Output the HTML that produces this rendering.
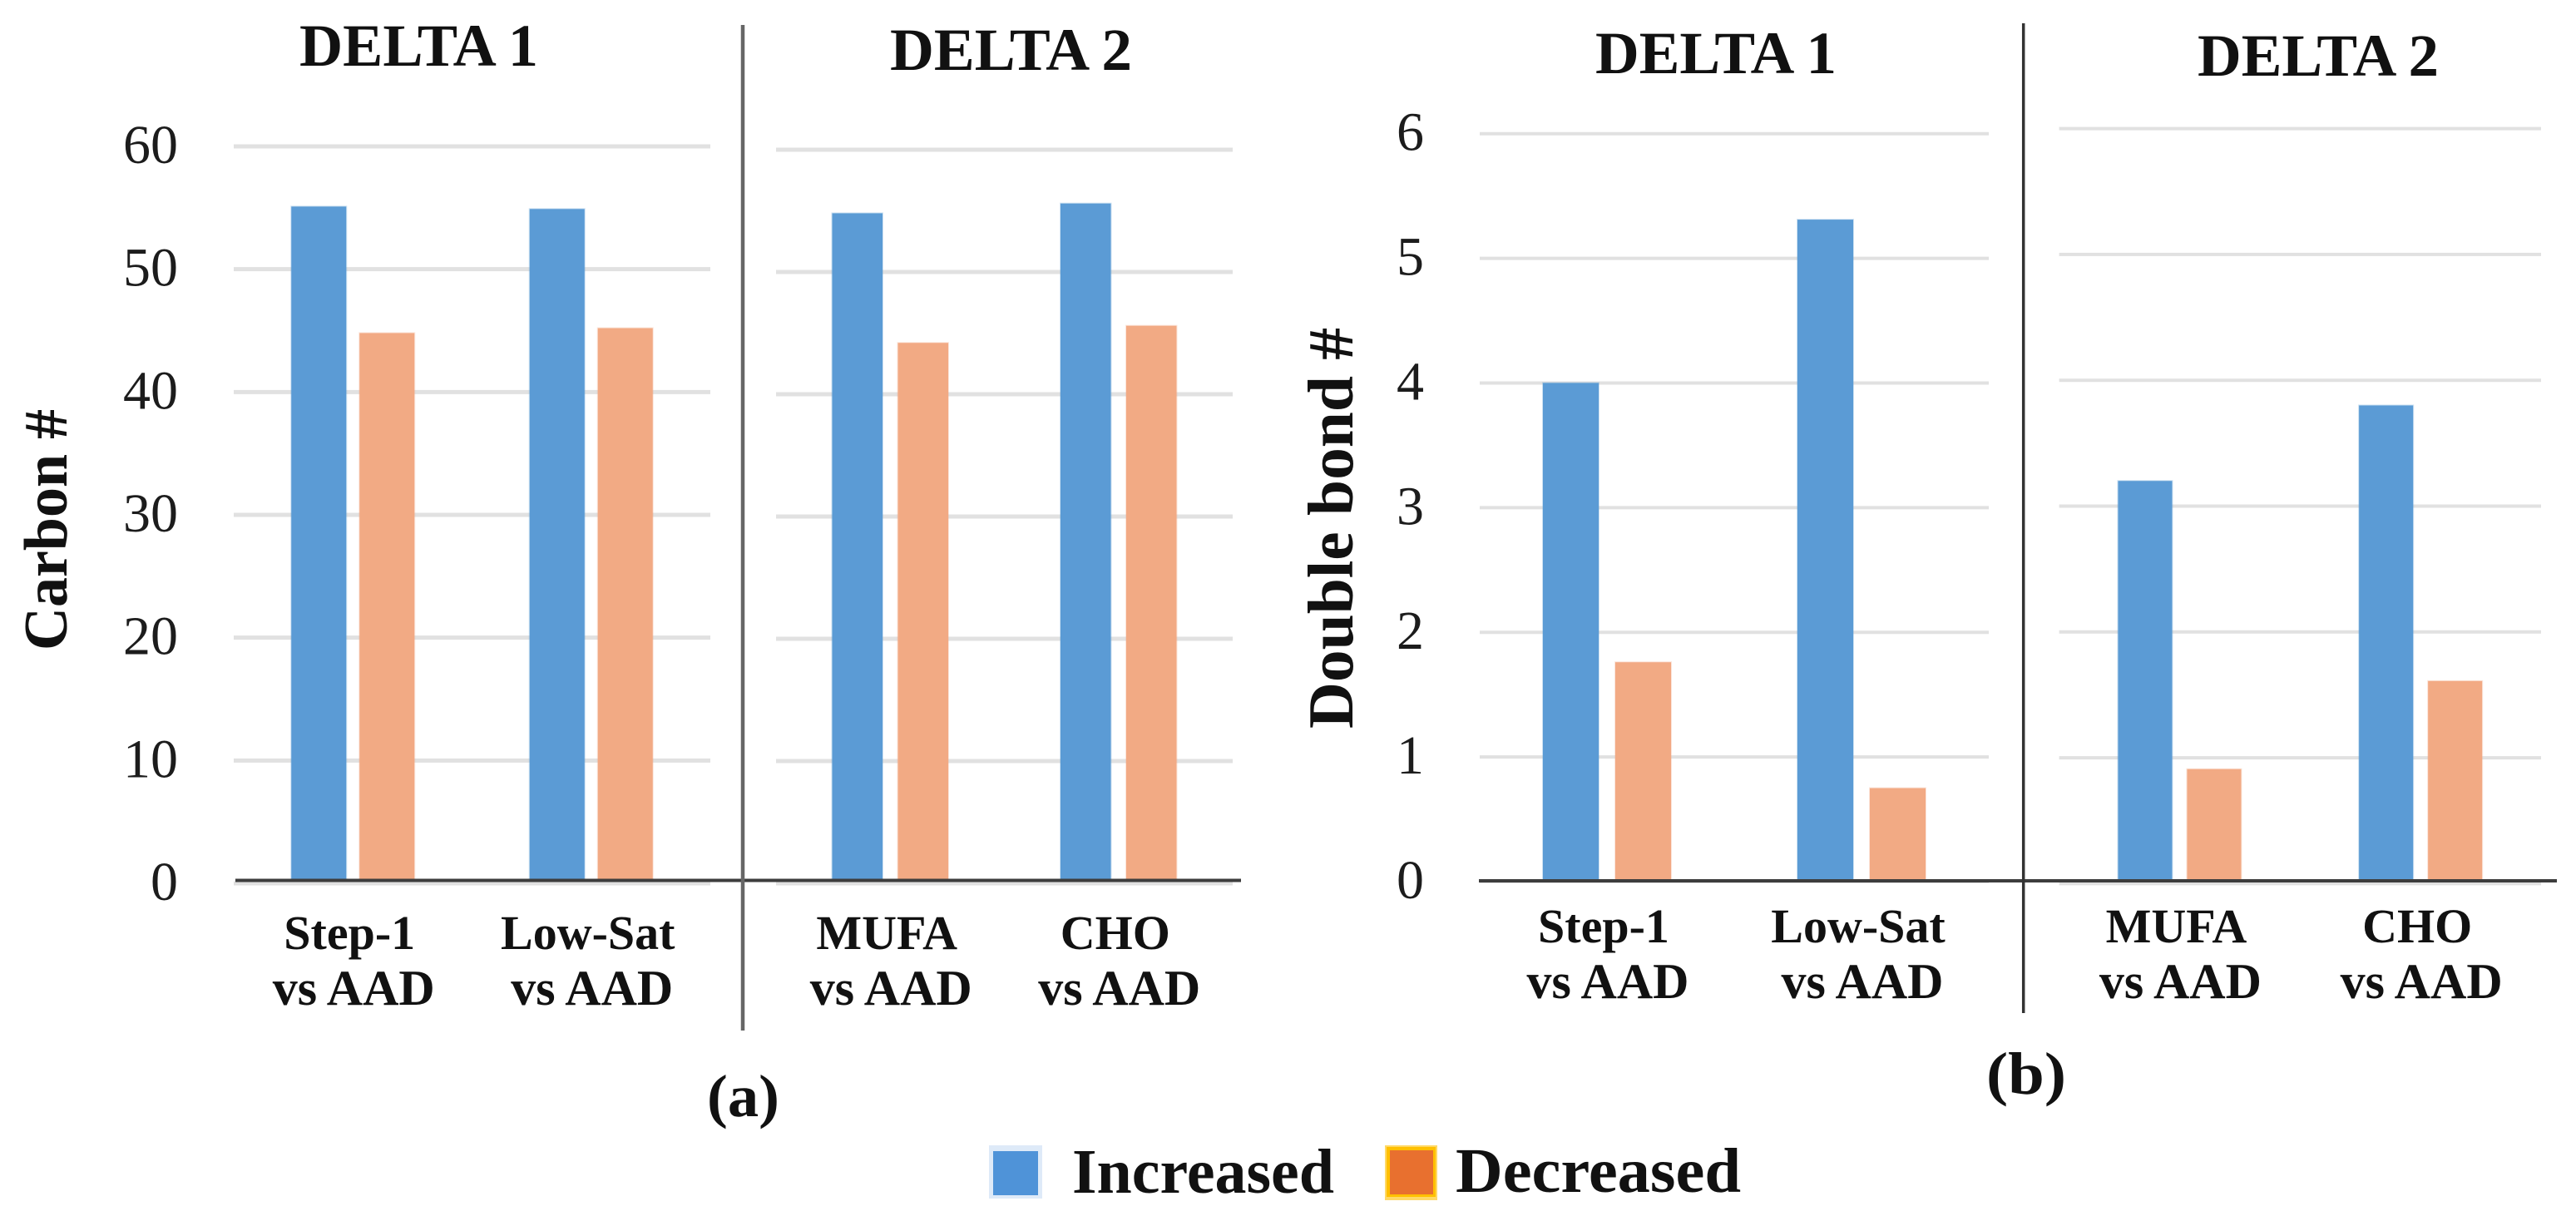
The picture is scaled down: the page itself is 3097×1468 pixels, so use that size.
<!DOCTYPE html>
<html lang="en">
<head>
<meta charset="utf-8">
<title>Carbon and double bond number charts</title>
<style>
html,body{margin:0;padding:0;background:#fff;width:3097px;height:1468px;overflow:hidden}
svg{display:block}
text{font-family:"Liberation Serif",serif;fill:#111}
.head{font-weight:700;font-size:72px}
.ytitle{font-weight:700}
.legend{font-weight:700;font-size:76px}
.sub{font-weight:700;font-size:72px}
</style>
</head>
<body>
<svg id="chart" xmlns="http://www.w3.org/2000/svg" width="3097" height="1468" viewBox="0 0 3097 1468">
  <rect x="0" y="0" width="3097" height="1468" fill="#fff"/>
  <g id="marks"></g>

  <text class="head" x="360" y="79" textLength="287" lengthAdjust="spacingAndGlyphs">DELTA 1</text>
  <text class="head" x="1070" y="84" textLength="291" lengthAdjust="spacingAndGlyphs">DELTA 2</text>
  <text class="head" x="1918" y="88" textLength="290" lengthAdjust="spacingAndGlyphs">DELTA 1</text>
  <text class="head" x="2642" y="91" textLength="290" lengthAdjust="spacingAndGlyphs">DELTA 2</text>

  <text class="ytitle" font-size="74" transform="translate(80,782) rotate(-90)" textLength="290" lengthAdjust="spacingAndGlyphs">Carbon #</text>
  <text class="ytitle" font-size="77" transform="translate(1626,876) rotate(-90)" textLength="482" lengthAdjust="spacingAndGlyphs">Double bond #</text>

  <text class="sub" x="850" y="1342" textLength="87" lengthAdjust="spacingAndGlyphs">(a)</text>
  <text class="sub" x="2388" y="1315" textLength="96" lengthAdjust="spacingAndGlyphs">(b)</text>

  <g>
    <rect x="1189" y="1377" width="64" height="64" fill="#deeaf8"/>
    <rect x="1194" y="1384" width="54" height="53" fill="#4f93d8"/>
    <text class="legend" x="1289" y="1434" textLength="315" lengthAdjust="spacingAndGlyphs">Increased</text>
    <rect x="1665" y="1377" width="63" height="66" fill="#ffd966"/>
    <rect x="1667" y="1379" width="59" height="60" fill="#ffc000"/>
    <rect x="1671" y="1383" width="52" height="53" fill="#e8702f"/>
    <text class="legend" x="1750" y="1433" textLength="343" lengthAdjust="spacingAndGlyphs">Decreased</text>
  </g>
</svg>
<script>
// ---- data ----
const delta1Categories = ["Step-1", "Low-Sat"];
const delta2Categories = ["MUFA", "CHO"];
const categorySuffix = "vs AAD";

const carbonTicks = [0, 10, 20, 30, 40, 50, 60];
const carbonDelta1Increased = [55.1, 54.9];
const carbonDelta1Decreased = [44.8, 45.2];
const carbonDelta2Increased = [54.8, 55.6];
const carbonDelta2Decreased = [44.2, 45.6];

const doubleBondTicks = [0, 1, 2, 3, 4, 5, 6];
const doubleBondDelta1Increased = [4.0, 5.31];
const doubleBondDelta1Decreased = [1.76, 0.75];
const doubleBondDelta2Increased = [3.2, 3.8];
const doubleBondDelta2Decreased = [0.91, 1.61];

// ---- drawing ----
const SVG_NS = "http://www.w3.org/2000/svg";
const root = document.getElementById("marks");

function node(tag, attrs) {
  const el = document.createElementNS(SVG_NS, tag);
  for (const k in attrs) el.setAttribute(k, attrs[k]);
  root.appendChild(el);
  return el;
}

function linear(d0, d1, r0, r1) {
  return function (v) { return r0 + (v - d0) / (d1 - d0) * (r1 - r0); };
}

function band(count, r0, r1) {
  return function (i) { return r0 + (r1 - r0) * (i + 0.5) / count; };
}

function drawSubpanel(p) {
  const top = p.ticks[p.ticks.length - 1];
  const y = linear(0, top, p.y0, p.yTop);
  const x = band(p.categories.length, p.x0, p.x1);

  p.ticks.forEach(function (t) {
    const line = node("line", {x1: p.x0, x2: p.x1, y1: y(t), y2: y(t), stroke: "#e1e1e1", "stroke-width": p.gridW});
    
    
    if (p.showTicks) {
      const lab = node("text", {x: p.tickX, y: y(t) + 20, "text-anchor": "end", "font-size": 66, fill: "#1c1c1c"});
      lab.textContent = String(t);
      lab.style.fill = "#1c1c1c";
      
      
    }
  });

  p.categories.forEach(function (cat, i) {
    const cx = x(i);
    const b1 = node("rect", {x: cx - p.step / 2 - p.barW / 2, y: y(p.increased[i]), width: p.barW, height: p.axisY - y(p.increased[i]), fill: "#5b9bd5", stroke: "#5b9bd5", "stroke-opacity": 0.3, "stroke-width": 2});
    
    
    const b2 = node("rect", {x: cx + p.step / 2 - p.barW / 2, y: y(p.decreased[i]), width: p.barW, height: p.axisY - y(p.decreased[i]), fill: "#f2aa84", stroke: "#f2aa84", "stroke-opacity": 0.3, "stroke-width": 2});
    
    

    const l1 = node("text", {x: cx - 4, y: p.labelY1, "text-anchor": "middle", "font-size": 58, "font-weight": 700});
    l1.textContent = cat;
    
    
    const l2 = node("text", {x: cx + 1, y: p.labelY2, "text-anchor": "middle", "font-size": 60, "font-weight": 700});
    l2.textContent = categorySuffix;
    
    
  });
}

const panelA = {axisY: 1058.5, labelY1: 1141, labelY2: 1208, gridW: 5};
const panelB = {axisY: 1059, labelY1: 1133, labelY2: 1200, gridW: 4};

drawSubpanel(Object.assign({}, panelA, {id: "carbon-delta-1", ticks: carbonTicks, categories: delta1Categories, increased: carbonDelta1Increased, decreased: carbonDelta1Decreased, x0: 281, x1: 854, y0: 1062, yTop: 176, barW: 66, step: 82, showTicks: true, tickX: 214}));
drawSubpanel(Object.assign({}, panelA, {id: "carbon-delta-2", ticks: carbonTicks, categories: delta2Categories, increased: carbonDelta2Increased, decreased: carbonDelta2Decreased, x0: 933, x1: 1482, y0: 1062, yTop: 180, barW: 60.5, step: 79, showTicks: false}));
drawSubpanel(Object.assign({}, panelB, {id: "double-bond-delta-1", ticks: doubleBondTicks, categories: delta1Categories, increased: doubleBondDelta1Increased, decreased: doubleBondDelta1Decreased, x0: 1779, x1: 2391, y0: 1060, yTop: 160.7, barW: 67, step: 87, showTicks: true, tickX: 1712}));
drawSubpanel(Object.assign({}, panelB, {id: "double-bond-delta-2", ticks: doubleBondTicks, categories: delta2Categories, increased: doubleBondDelta2Increased, decreased: doubleBondDelta2Decreased, x0: 2475.6, x1: 3055, y0: 1062.4, yTop: 154.6, barW: 65, step: 83, showTicks: false}));

const axisA = node("line", {x1: 283, x2: 1492, y1: 1058.5, y2: 1058.5, stroke: "#3d3d3d", "stroke-width": 4});


const axisB = node("line", {x1: 1778, x2: 3074, y1: 1059, y2: 1059, stroke: "#3d3d3d", "stroke-width": 4});


const divA = node("line", {x1: 893, x2: 893, y1: 30, y2: 1239, stroke: "#666", "stroke-width": 4.5});


const divB = node("line", {x1: 2432.7, x2: 2432.7, y1: 28, y2: 1218, stroke: "#333", "stroke-width": 3.5});


</script>
</body>
</html>
